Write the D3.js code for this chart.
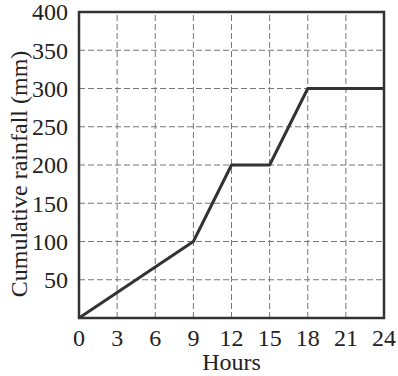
<!DOCTYPE html>
<html>
<head>
<meta charset="utf-8">
<script src="https://cdn.jsdelivr.net/npm/d3@7"></script>
<style>
  body { margin: 0; background: #fff; }
</style>
</head>
<body>
<div id="chart"></div>
<script>
// 数据
const hours = [0, 9, 12, 15, 18, 24];
const rainfall = [0, 100, 200, 200, 300, 300];
const xTicks = [0, 3, 6, 9, 12, 15, 18, 21, 24];
const yTicks = [50, 100, 150, 200, 250, 300, 350, 400];

const width = 398, height = 376;
const margin = { left: 79, right: 14, top: 12, bottom: 58 };
const font = "'Liberation Serif', 'Times New Roman', Times, serif";

const svg = d3.select("#chart").append("svg")
  .attr("width", width)
  .attr("height", height)
  .attr("font-family", font)
  .style("font-family", font);

const x = d3.scaleLinear().domain([0, 24]).range([margin.left, width - margin.right]);
const y = d3.scaleLinear().domain([0, 400]).range([height - margin.bottom, margin.top]);

// 网格线
const grid = svg.append("g")
  .attr("stroke", "#777")
  .attr("stroke-width", 1)
  .attr("stroke-dasharray", "6,3");

grid.selectAll("line.v")
  .data(xTicks.filter(d => d > 0 && d < 24))
  .join("line")
  .attr("class", "v")
  .attr("x1", d => x(d)).attr("x2", d => x(d))
  .attr("y1", y(0)).attr("y2", y(400));

grid.selectAll("line.h")
  .data(yTicks.filter(d => d < 400))
  .join("line")
  .attr("class", "h")
  .attr("x1", x(0)).attr("x2", x(24))
  .attr("y1", d => y(d)).attr("y2", d => y(d));

// 折线
const line = d3.line()
  .x((d, i) => x(hours[i]))
  .y(d => y(d));

svg.append("path")
  .datum(rainfall)
  .attr("fill", "none")
  .attr("stroke", "#333")
  .attr("stroke-width", 3)
  .attr("stroke-linejoin", "round")
  .attr("d", line);

// 边框
svg.append("rect")
  .attr("x", x(0)).attr("y", y(400))
  .attr("width", x(24) - x(0))
  .attr("height", y(0) - y(400))
  .attr("fill", "none")
  .attr("stroke", "#333")
  .attr("stroke-width", 2.5);

// 刻度标签
svg.append("g").selectAll("text")
  .data(xTicks)
  .join("text")
  .attr("x", d => x(d))
  .attr("y", y(0) + 28)
  .attr("text-anchor", "middle")
  .attr("font-size", 24)
  .attr("fill", "#222")
  .text(d => d);

svg.append("g").selectAll("text")
  .data(yTicks)
  .join("text")
  .attr("x", x(0) - 11)
  .attr("y", d => y(d))
  .attr("dy", "0.35em")
  .attr("text-anchor", "end")
  .attr("font-size", 24)
  .attr("fill", "#222")
  .text(d => d);

// 轴标题
svg.append("text")
  .attr("x", (x(0) + x(24)) / 2)
  .attr("y", 370)
  .attr("text-anchor", "middle")
  .attr("font-size", 24)
  .attr("fill", "#222")
  .text("Hours");

svg.append("text")
  .attr("transform", "translate(27,174) rotate(-90)")
  .attr("text-anchor", "middle")
  .attr("font-size", 24)
  .attr("fill", "#222")
  .text("Cumulative rainfall (mm)");
</script>
</body>
</html>
